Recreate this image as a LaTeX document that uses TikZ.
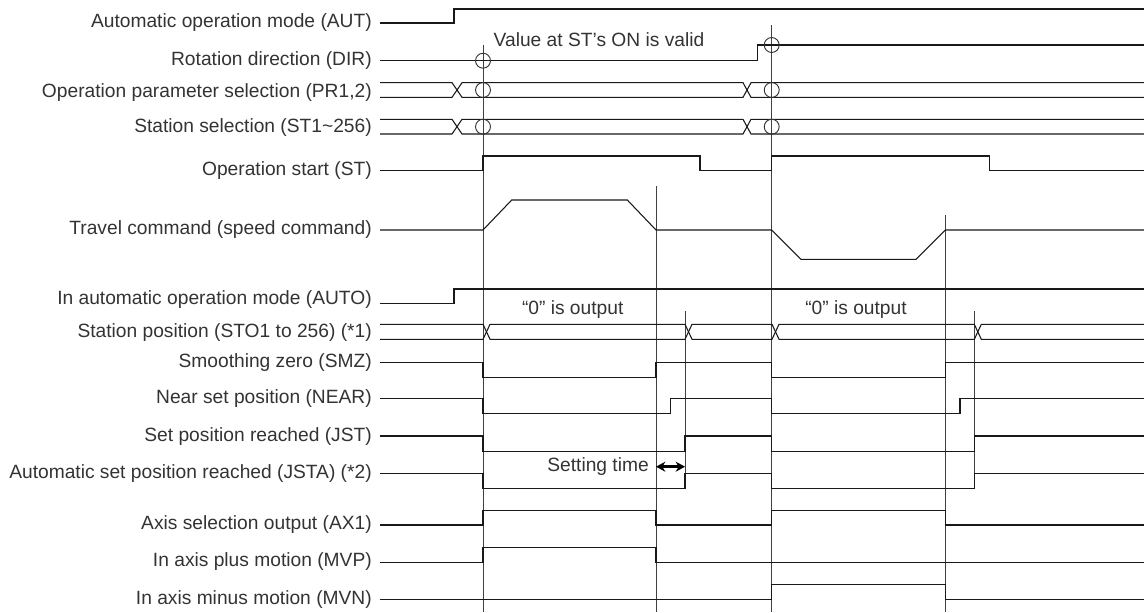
\documentclass[tikz,border=0pt]{standalone}
\usepackage{fontspec}
\setmainfont{Liberation Sans}
\usetikzlibrary{arrows.meta,positioning,calc}

\begin{document}
\begin{tikzpicture}[
    x=0.75pt, y=-0.75pt,
    signame/.style={anchor=east, text=black!80, font=\fontsize{14.4}{16}\selectfont, inner sep=0pt},
    note/.style={text=black!80, font=\fontsize{14.4}{16}\selectfont, inner sep=0pt},
    wave/.style={line width=0.8pt, black!90},
    marker/.style={line width=0.7pt, black!75},
    validmark/.style={line width=0.7pt, black!80},
    arrow/.style={{Stealth[length=7pt,width=7.5pt]}-{Stealth[length=7pt,width=7.5pt]}, line width=2.2pt}
]
\useasboundingbox (0,0) rectangle (1144,612);
\node[signame] (aut)  at (372,23)    {Automatic operation mode (AUT)};
\node[signame] (dir)  at (372,60.7)  {Rotation direction (DIR)};
\node[signame] (pr)   at (372,93)    {Operation parameter selection (PR1,2)};
\node[signame] (st)   at (372,128)   {Station selection (ST1\char"7E 256)};
\node[signame] (start) at (372,171)  {Operation start (ST)};
\node[signame] (travel) at (372,230) {Travel command (speed command)};
\node[signame] (auto) at (372,300)   {In automatic operation mode (AUTO)};
\node[signame] (sto)  at (372,333)   {Station position (STO1 to 256) (*1)};
\node[signame] (smz)  at (372,363)   {Smoothing zero (SMZ)};
\node[signame] (near) at (372,399)   {Near set position (NEAR)};
\node[signame] (jst)  at (372,436.5) {Set position reached (JST)};
\node[signame] (jsta) at (372,474)   {Automatic set position reached (JSTA) (*2)};
\node[signame] (ax)   at (372,525)   {Axis selection output (AX1)};
\node[signame] (mvp)  at (372,562)   {In axis plus motion (MVP)};
\node[signame] (mvn)  at (372,599.5) {In axis minus motion (MVN)};

\node[note] (valid) at (599,39.3) {Value at ST’s ON is valid};
\node[note] (zero1) at (572.7,309.3) {“0” is output};
\node[note] (zero2) at (856,309.3) {“0” is output};
\node[note, anchor=east] (settle) at (649,466.7) {Setting time};

\draw[marker] (483,45) -- (483,612);
\draw[marker] (771.7,25) -- (771.7,612);
\draw[marker] (656,186) -- (656,612);
\draw[marker] (945.3,215) -- (945.3,612);
\draw[marker] (685,311) -- (685,488.3);
\draw[marker] (974.3,311) -- (974.3,488.3);

\draw[wave] (380,23) -- (454,23) -- (454,9) -- (1144,9);
\draw[wave] (380,60.7) -- (757.7,60.7) -- (757.7,45) -- (1144,45);
\foreach \yt/\yb in {82.7/97.3, 119.3/134} {
  \draw[wave] (380,\yt) -- (452,\yt) -- (462,\yb) -- (743,\yb) -- (751,\yt) -- (1144,\yt);
  \draw[wave] (380,\yb) -- (452,\yb) -- (462,\yt) -- (743,\yt) -- (751,\yb) -- (1144,\yb);
}
\draw[wave] (380,170.7) -- (483,170.7) -- (483,156) -- (700,156) -- (700,170.7) -- (771.7,170.7) -- (771.7,156) -- (989.3,156) -- (989.3,170.7) -- (1144,170.7);
\draw[wave] (380,230) -- (483,230) -- (511.7,200) -- (627.3,200) -- (656,230) -- (771.7,230) -- (801,259.3) -- (916,259.3) -- (945.3,230) -- (1144,230);
\draw[wave] (380,303.3) -- (454,303.3) -- (454,289) -- (1144,289);
\draw[wave] (380,324.3) -- (483,324.3) -- (490,339.3) -- (685,339.3) -- (692,324.3) -- (772,324.3) -- (779,339.3) -- (974.3,339.3) -- (981.3,324.3) -- (1144,324.3);
\draw[wave] (380,339.3) -- (483,339.3) -- (490,324.3) -- (685,324.3) -- (692,339.3) -- (772,339.3) -- (779,324.3) -- (974.3,324.3) -- (981.3,339.3) -- (1144,339.3);
\draw[wave] (380,362.7) -- (483,362.7) |- (656,377.3) |- (771.7,362.7) |- (945.3,377.3) |- (1144,362.7);
\draw[wave] (380,398.3) -- (483,398.3) |- (670.7,413.3) |- (771.7,398.3) |- (960,413.3) |- (1144,398.3);
\draw[wave] (380,436) -- (483,436) |- (685,451.7) |- (771.7,436) |- (974.3,451.7) |- (1144,436);
\draw[wave] (380,473.3) -- (483,473.3) |- (685,488.3) |- (771.7,473.3) |- (974.3,488.3) |- (1144,473.3);
\draw[wave] (380,525) -- (483,525) |- (656,510.7) |- (771.7,525) |- (945.3,510.7) |- (1144,525);
\draw[wave] (380,562.3) -- (483,562.3) |- (656,547.3) |- (1144,562.3);
\draw[wave] (380,599.3) -- (771.7,599.3) |- (945.3,584.3) |- (1144,599.3);

\foreach \cx/\cy in {483/60.7, 483/90, 483/126.7, 771.7/45, 771.7/90, 771.7/126.7}
  \draw[validmark] (\cx,\cy) circle[radius=5.6pt];

\coordinate (s1) at (656,466.7);
\coordinate (s2) at (685,466.7);
\draw[arrow] (s1) -- (s2);
\end{tikzpicture}
\end{document}
